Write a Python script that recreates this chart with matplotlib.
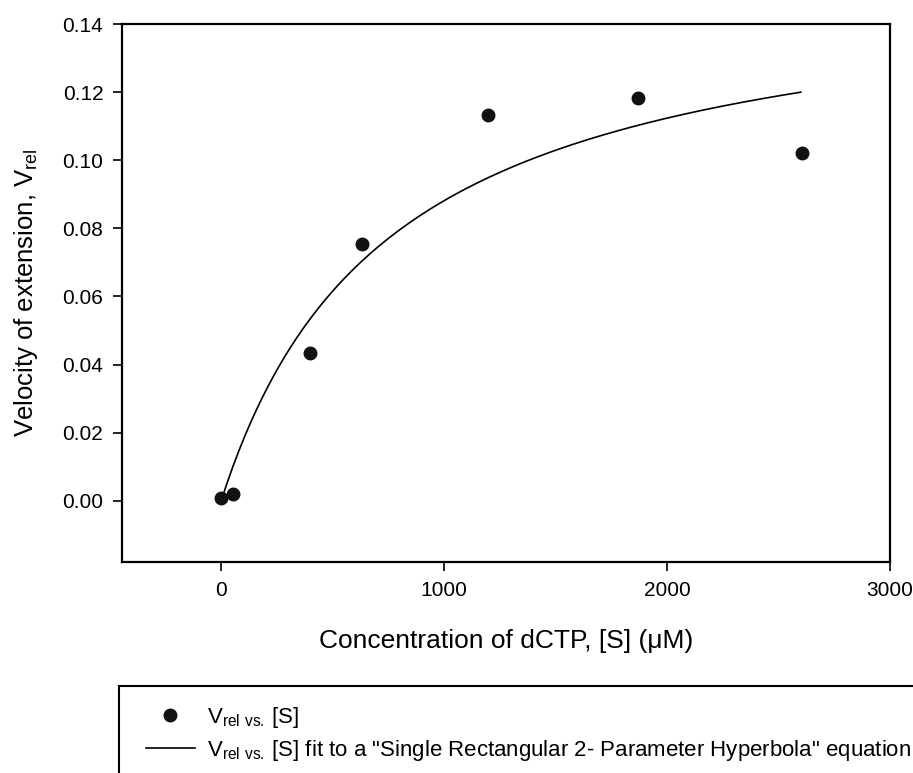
import numpy as np
import matplotlib.pyplot as plt
from matplotlib.patches import Rectangle

plt.rcParams['font.family'] = ['Liberation Sans', 'DejaVu Sans']
plt.rcParams['mathtext.fontset'] = 'custom'
plt.rcParams['mathtext.rm'] = 'Liberation Sans'

# measured points
conc = [0, 54, 400, 630, 1198, 1870, 2605]
vrel = [0.0007, 0.002, 0.0435, 0.0753, 0.1132, 0.1183, 0.1022]

# hyperbola parameters (y = vmax*x/(km+x))
vmax = 0.155
km = 759
fit_x = np.linspace(0, 2600, 200)
fit_y = vmax * fit_x / (km + fit_x)

fig = plt.figure(figsize=(9.13, 7.73), dpi=100)
ax = fig.add_axes([122/913, 1-562/773, (890-122)/913, (562-24)/773])

ax.plot(fit_x, fit_y, color='black', lw=1.2,
        label=r'V$_{\mathrm{rel\ vs.}}\,$[S] fit to a "Single Rectangular 2- Parameter Hyperbola" equation')
ax.plot(conc, vrel, 'o', color='#111111', ms=9, ls='none',
        label=r'V$_{\mathrm{rel\ vs.}}\,$[S]')

ax.set_xlim(-445, 3000)
ax.set_ylim(-0.018, 0.14)
ax.set_xticks([0, 1000, 2000, 3000])
ax.set_yticks(np.arange(0, 0.141, 0.02))
ax.yaxis.set_major_formatter(plt.FormatStrFormatter('%.2f'))
ax.tick_params(direction='out', length=6.5, width=1.2, labelsize=15, pad=7)
for s in ax.spines.values():
    s.set_linewidth(1.6)

ax.set_xlabel('Concentration of dCTP, [S] (\u03bcM)', fontsize=19, labelpad=21)
ax.set_ylabel(r'Velocity of extension, V$_{\mathrm{rel}}$', fontsize=18.5, labelpad=16)

# legend box running off the page
fig.patches.append(Rectangle((119/913, -0.1), 1, 0.1 + 1-686/773,
                             transform=fig.transFigure, fill=False, lw=1.5, color='black'))
h, l = ax.get_legend_handles_labels()
fig.legend([h[1], h[0]], [l[1], l[0]], loc='upper left',
           bbox_to_anchor=(146/913, 1-705/773), frameon=False, fontsize=16,
           borderaxespad=0, borderpad=0,
           handlelength=2.2, handletextpad=0.55, labelspacing=0.35)

fig.savefig('out.png', dpi=100)
